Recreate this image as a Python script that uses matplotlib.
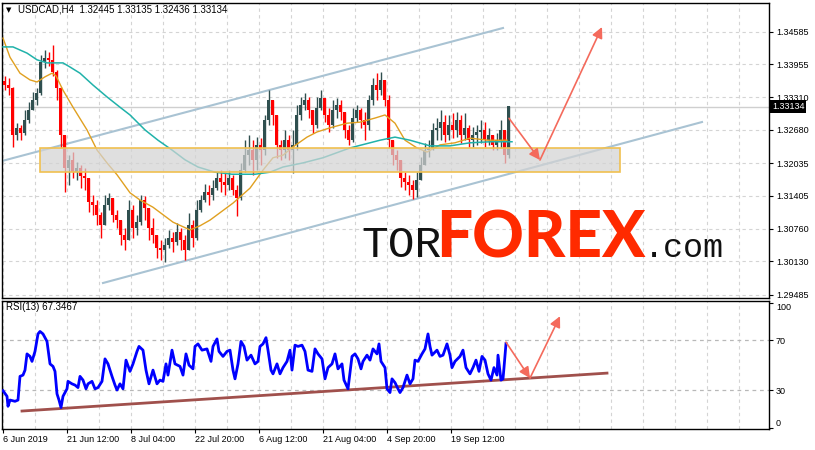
import numpy as np
import matplotlib.pyplot as plt
from matplotlib.patches import Rectangle
from matplotlib import transforms

plt.rcParams['font.family'] = ['Liberation Sans', 'DejaVu Sans']

first_open = 1.3362
closes = [1.3355, 1.3349, 1.3258, 1.3272, 1.3262, 1.3287, 1.3307, 1.3326, 1.3340, 1.3400,
          1.3408, 1.3404, 1.3380, 1.3349, 1.3258, 1.3194, 1.3210, 1.3186, 1.3194, 1.3179,
          1.3175, 1.3128, 1.3122, 1.3103, 1.3084, 1.3122, 1.3136, 1.3103, 1.3093, 1.3064,
          1.3054, 1.3113, 1.3078, 1.3089, 1.3132, 1.3117, 1.3078, 1.3064, 1.3039, 1.3035,
          1.3045, 1.3058, 1.3051, 1.3070, 1.3054, 1.3035, 1.3084, 1.3058, 1.3113, 1.3132,
          1.3148, 1.3142, 1.3155, 1.3175, 1.3167, 1.3161, 1.3175, 1.3151, 1.3136, 1.3190,
          1.3219, 1.3229, 1.3210, 1.3239, 1.3229, 1.3287, 1.3326, 1.3297, 1.3239, 1.3229,
          1.3248, 1.3229, 1.3239, 1.3297, 1.3316, 1.3326, 1.3307, 1.3278, 1.3311, 1.3330,
          1.3297, 1.3278, 1.3307, 1.3316, 1.3303, 1.3268, 1.3248, 1.3291, 1.3307, 1.3287,
          1.3278, 1.3326, 1.3355, 1.3345, 1.3365, 1.3326, 1.3248, 1.3219, 1.3210, 1.3175,
          1.3167, 1.3161, 1.3151, 1.3171, 1.3200, 1.3229, 1.3233, 1.3268, 1.3272, 1.3283,
          1.3258, 1.3278, 1.3268, 1.3287, 1.3258, 1.3272, 1.3248, 1.3258, 1.3264, 1.3268,
          1.3248, 1.3258, 1.3239, 1.3248, 1.3268, 1.3219, 1.33134]
highs = [1.3373, 1.3369, 1.3352, 1.3281, 1.3278, 1.3307, 1.3322, 1.3342, 1.3349, 1.3413,
         1.3423, 1.3419, 1.3433, 1.3384, 1.3352, 1.3229, 1.3219, 1.3225, 1.3206, 1.3200,
         1.3194, 1.3175, 1.3142, 1.3132, 1.3109, 1.3142, 1.3146, 1.3122, 1.3113, 1.3089,
         1.3078, 1.3132, 1.3122, 1.3103, 1.3142, 1.3140, 1.3113, 1.3097, 1.3064, 1.3054,
         1.3058, 1.3074, 1.3070, 1.3087, 1.3078, 1.3064, 1.3107, 1.3093, 1.3132, 1.3142,
         1.3163, 1.3161, 1.3171, 1.3186, 1.3190, 1.3186, 1.3190, 1.3181, 1.3161, 1.3204,
         1.3248, 1.3258, 1.3248, 1.3254, 1.3252, 1.3297, 1.3345, 1.3326, 1.3297, 1.3248,
         1.3268, 1.3258, 1.3268, 1.3316, 1.3332, 1.3340, 1.3332, 1.3307, 1.3332, 1.3345,
         1.3326, 1.3311, 1.3326, 1.3330, 1.3326, 1.3297, 1.3278, 1.3311, 1.3316, 1.3311,
         1.3303, 1.3336, 1.3369, 1.3378, 1.3380, 1.3349, 1.3336, 1.3243, 1.3229, 1.3200,
         1.3186, 1.3181, 1.3171, 1.3186, 1.3215, 1.3243, 1.3248, 1.3281, 1.3291, 1.3307,
         1.3297, 1.3297, 1.3301, 1.3303, 1.3297, 1.3301, 1.3278, 1.3274, 1.3278, 1.3287,
         1.3283, 1.3272, 1.3258, 1.3262, 1.3287, 1.3239, 1.33135]
lows = [1.3345, 1.3336, 1.3235, 1.3248, 1.3248, 1.3258, 1.3281, 1.3311, 1.3316, 1.3336,
        1.3389, 1.3392, 1.3373, 1.3326, 1.3233, 1.3148, 1.3161, 1.3175, 1.3171, 1.3155,
        1.3151, 1.3109, 1.3103, 1.3084, 1.3058, 1.3089, 1.3113, 1.3089, 1.3078, 1.3045,
        1.3035, 1.3054, 1.3058, 1.3064, 1.3084, 1.3093, 1.3054, 1.3049, 1.3020, 1.3016,
        1.3012, 1.3039, 1.3031, 1.3045, 1.3035, 1.3016, 1.3039, 1.3041, 1.3054, 1.3109,
        1.3128, 1.3122, 1.3132, 1.3151, 1.3148, 1.3142, 1.3151, 1.3142, 1.3101, 1.3132,
        1.3186, 1.3200, 1.3181, 1.3190, 1.3200, 1.3219, 1.3278, 1.3278, 1.3214, 1.3210,
        1.3214, 1.3210, 1.3184, 1.3229, 1.3287, 1.3307, 1.3291, 1.3262, 1.3272, 1.3307,
        1.3283, 1.3264, 1.3272, 1.3291, 1.3287, 1.3252, 1.3239, 1.3245, 1.3283, 1.3272,
        1.3248, 1.3268, 1.3316, 1.3326, 1.3336, 1.3314, 1.3233, 1.3200, 1.3190, 1.3157,
        1.3151, 1.3142, 1.3134, 1.3138, 1.3175, 1.3200, 1.3215, 1.3229, 1.3248, 1.3248,
        1.3245, 1.3248, 1.3252, 1.3254, 1.3243, 1.3248, 1.3235, 1.3235, 1.3239, 1.3243,
        1.3235, 1.3239, 1.3229, 1.3229, 1.3233, 1.3204, 1.3214]

# Gleitende Durchschnitte (x = Bar-Position im Fenster)
ma_fast_x = [3, 10, 20, 30, 37, 45, 52, 56, 63, 73, 87, 97, 107, 117, 130, 140, 153, 173, 190, 200,
             210, 233, 250, 263, 273, 283, 293, 307, 317, 330, 347, 360, 375, 385, 395, 405, 417, 427,
             440, 455, 470, 488, 507]
ma_fast = [1.3446, 1.3409, 1.3378, 1.3365, 1.3361, 1.3371, 1.3378, 1.3373, 1.3345, 1.3312,
           1.3268, 1.3229, 1.3204, 1.3181, 1.3146, 1.3132, 1.3118, 1.3089, 1.3074, 1.3082,
           1.3093, 1.3126, 1.3155, 1.3190, 1.3214, 1.3219, 1.3235, 1.3254, 1.3264, 1.3272,
           1.3281, 1.3283, 1.3291, 1.3297, 1.3281, 1.3248, 1.3233, 1.3225, 1.3239, 1.3243,
           1.3252, 1.3248, 1.3248]
ma_slow_x = [3, 13, 27, 37, 47, 63, 70, 80, 93, 107, 120, 130, 145, 158, 172, 185, 198, 215, 232, 255,
             270, 283, 303, 323, 350, 370, 380, 395, 410, 430, 450, 470, 490, 512]
ma_slow = [1.3429, 1.3429, 1.3417, 1.3404, 1.3398, 1.3398, 1.3390, 1.3378, 1.3355, 1.3332,
           1.3312, 1.3297, 1.3268, 1.3248, 1.3229, 1.3210, 1.3196, 1.3186, 1.3182, 1.3182,
           1.3186, 1.3196, 1.3204, 1.3214, 1.3233, 1.3243, 1.3248, 1.3254, 1.3248, 1.3237,
           1.3237, 1.3243, 1.3245, 1.3245]

# RSI(13)
rsi_x = [3, 7, 8, 10, 15, 18, 20, 23, 25, 27, 30, 32, 35, 38, 40, 43, 47, 50, 53, 55,
         57, 59, 61, 63, 67, 68, 72, 75, 78, 80, 83, 86, 88, 92, 95, 98, 102, 105, 108, 112,
         115, 117, 120, 123, 126, 130, 133, 137, 139, 143, 146, 149, 153, 157, 160, 163, 166, 168, 172, 175,
         180, 183, 186, 189, 193, 195, 198, 202, 207, 211, 213, 217, 219, 223, 227, 230, 233, 235, 238, 241,
         244, 247, 251, 255, 258, 260, 263, 266, 268, 271, 273, 277, 280, 283, 287, 290, 292, 295, 298, 302,
         305, 308, 312, 315, 318, 322, 325, 328, 332, 335, 338, 342, 344, 348, 352, 355, 358, 361, 363, 367,
         370, 373, 377, 379, 381, 385, 387, 390, 392, 395, 398, 400, 403, 407, 410, 413, 415, 418, 422, 425,
         428, 430, 432, 437, 440, 443, 447, 450, 452, 455, 460, 463, 466, 470, 473, 476, 479, 482, 485, 488,
         491, 494, 497, 498, 501, 503, 504, 506]
rsi = [29.5, 25, 17, 22, 21, 22, 41, 42, 46, 59, 57, 53, 61, 75, 77, 75, 69, 51, 49, 45,
       27, 22, 16, 25, 31, 37, 35, 34, 32, 41, 38, 31, 35, 37, 31, 32, 37, 55, 51, 41,
       34, 30, 35, 31, 54, 45, 51, 61, 65, 62, 46, 35, 46, 35, 38, 37, 51, 42, 62, 51,
       49, 42, 59, 50, 47, 65, 67, 62, 63, 53, 65, 71, 61, 57, 61, 62, 46, 39, 51, 69,
       65, 54, 58, 51, 53, 65, 67, 72, 62, 46, 43, 51, 43, 48, 53, 62, 46, 66, 65, 66,
       61, 46, 45, 63, 59, 55, 39, 48, 51, 59, 47, 51, 38, 31, 57, 59, 55, 47, 53, 58,
       54, 63, 59, 67, 53, 48, 31, 28, 39, 36, 31, 28, 32, 42, 35, 39, 54, 53, 59, 63,
       75, 65, 58, 62, 57, 58, 67, 58, 48, 53, 57, 62, 48, 43, 48, 54, 45, 57, 54, 43,
       38, 48, 42, 58, 38, 39, 48, 67.3]

price_ticks = [1.29485, 1.30130, 1.30760, 1.31405, 1.32035, 1.32680, 1.33310, 1.33955, 1.34585]
time_ticks = [3, 67, 131, 195, 259, 323, 387, 451]
time_labels = ['6 Jun 2019', '21 Jun 12:00', '8 Jul 04:00', '22 Jul 20:00',
               '6 Aug 12:00', '21 Aug 04:00', '4 Sep 20:00', '19 Sep 12:00']
last_price = 1.33134

# Zeichnungen (Kanal, Zone, Pfeile)
chan_upper = ([2, 503], [1.32077, 1.34657])
chan_lower = ([103, 702], [1.29710, 1.32833])
zone_x = (40, 620)
zone_y = (1.31863, 1.32329)
arrow_down = ((509, 1.32905), (540, 1.32096))
arrow_up = ((540, 1.32096), (602, 1.34676))
rsi_line = ([22, 607], [13.2, 43.6])
rsi_arrow_down = ((506, 68.4), (530, 39.6))
rsi_arrow_up = ((530, 39.6), (560, 89.2))

W, H = 815, 450
fig = plt.figure(figsize=(W / 100, H / 100), dpi=100)


def px_rect(x0, y0, x1, y1):
    return [x0 / W, 1 - y1 / H, (x1 - x0) / W, (y1 - y0) / H]


ax = fig.add_axes(px_rect(2, 3, 769, 298))
ax_rsi = fig.add_axes(px_rect(2, 301, 769, 429))

grid_x = np.arange(3, 766, 32)
grid_kw = dict(color='#d4d4d4', lw=0.8, ls=(0, (3, 3)))

# --- Hauptchart ---
closes = np.array(closes)
opens = np.r_[first_open, closes[:-1]]
xs = 4.5 + 4 * np.arange(len(closes))
colors = np.where(closes >= opens, '#2f4f4f', '#ff0000')
hi = np.maximum(highs, np.maximum(opens, closes))
lo = np.minimum(lows, np.minimum(opens, closes))
ax.vlines(xs, lo, hi, colors=colors, lw=1, zorder=3)
ax.bar(xs, np.abs(closes - opens) + 0.00006, bottom=np.minimum(opens, closes) - 0.00003,
       width=2.3, color=colors, linewidth=0, zorder=3)

ax.plot(ma_fast_x, ma_fast, color='#e0a020', lw=1, zorder=3.5)
ax.plot(ma_slow_x, ma_slow, color='#20b2aa', lw=1.1, zorder=3.5)

ax.plot(*chan_upper, color='#a9c3d3', lw=1.5, zorder=2)
ax.plot(*chan_lower, color='#a9c3d3', lw=1.5, zorder=2)

ax.add_patch(Rectangle((zone_x[0], zone_y[0]), zone_x[1] - zone_x[0], zone_y[1] - zone_y[0],
                       facecolor='#d3d3d3', alpha=0.72, edgecolor='none', zorder=4))
ax.add_patch(Rectangle((zone_x[0], zone_y[0]), zone_x[1] - zone_x[0], zone_y[1] - zone_y[0],
                       facecolor='none', edgecolor='#f0c050', lw=1.2, zorder=4.5))

ax.axhline(last_price, color='#cfcfcf', lw=1, zorder=1)
for p in price_ticks:
    ax.axhline(p, zorder=0, **grid_kw)
for gx in grid_x:
    ax.axvline(gx, zorder=0, **grid_kw)

arrow_kw = dict(arrowstyle='-|>', color='#f46a5c', lw=1.2, mutation_scale=16, shrinkA=0, shrinkB=0)
for a in (arrow_down, arrow_up):
    ax.annotate('', xy=a[1], xytext=a[0], arrowprops=arrow_kw, zorder=6)

ax.set_xlim(2, 769)
ax.set_ylim(1.29419, 1.35142)
ax.yaxis.tick_right()
ax.set_yticks(price_ticks)
ax.set_yticklabels([f'{p:.5f}' for p in price_ticks])
ax.tick_params(axis='y', direction='out', length=3, labelsize=6.5, pad=2, colors='black')
ax.tick_params(axis='x', bottom=False, labelbottom=False)
for s in ax.spines.values():
    s.set_color('black')
    s.set_linewidth(1)

trans = transforms.blended_transform_factory(ax.transAxes, ax.transData)
ax.text(1.004, last_price, '1.33134', transform=trans, ha='left', va='center', color='white',
        fontsize=6.5, clip_on=False, zorder=10,
        bbox=dict(boxstyle='square,pad=0.2', fc='black', ec='none'))

# --- RSI ---
ax_rsi.plot(rsi_x, rsi, color='#0000ff', lw=2, zorder=3)
ax_rsi.plot(*rsi_line, color='#a0504c', lw=2, zorder=2)
for lvl in (30, 70):
    ax_rsi.axhline(lvl, color='#b8b8b8', lw=0.9, ls=(0, (3, 3)), zorder=1)
for gx in grid_x:
    ax_rsi.axvline(gx, zorder=0, **grid_kw)
for a in (rsi_arrow_down, rsi_arrow_up):
    ax_rsi.annotate('', xy=a[1], xytext=a[0], arrowprops=arrow_kw, zorder=6)

ax_rsi.set_xlim(2, 769)
ax_rsi.set_ylim(-1.2, 101.4)
ax_rsi.yaxis.tick_right()
ax_rsi.set_yticks([0, 30, 70, 100])
ax_rsi.set_yticklabels(['0', '30', '70', '100'])
labs = ax_rsi.get_yticklabels()
labs[0].set_va('bottom')
labs[3].set_va('top')
ax_rsi.tick_params(axis='y', direction='out', length=3, labelsize=6.5, pad=2)
ax_rsi.set_xticks(time_ticks)
ax_rsi.set_xticklabels(time_labels, ha='left')
ax_rsi.tick_params(axis='x', direction='out', length=3, labelsize=6.5, pad=1)
for s in ax_rsi.spines.values():
    s.set_color('black')
    s.set_linewidth(1)

# --- Texte ---
fig.text(6 / W, 1 - 10 / H, '\u25bc', fontsize=5, family='DejaVu Sans', va='center')
fig.text(18 / W, 1 - 10 / H, 'USDCAD,H4  1.32445 1.33135 1.32436 1.33134', fontsize=7, va='center')
fig.text(6 / W, 1 - 307 / H, 'RSI(13) 67.3467', fontsize=7, va='center')

fig.text(361 / W, 1 - 257 / H, 'TOR', family='Liberation Mono', fontsize=32, color='#111111',
         va='baseline')
fig.text(436 / W, 1 - 257 / H, 'FOREX', family=['Lato', 'DejaVu Sans'], fontweight='black',
         fontsize=46, color='#ff2a00', va='baseline')
fig.text(644 / W, 1 - 257 / H, '.com', family='Liberation Mono', fontsize=24, color='#111111',
         va='baseline')

fig.savefig('out.png', dpi=100)
